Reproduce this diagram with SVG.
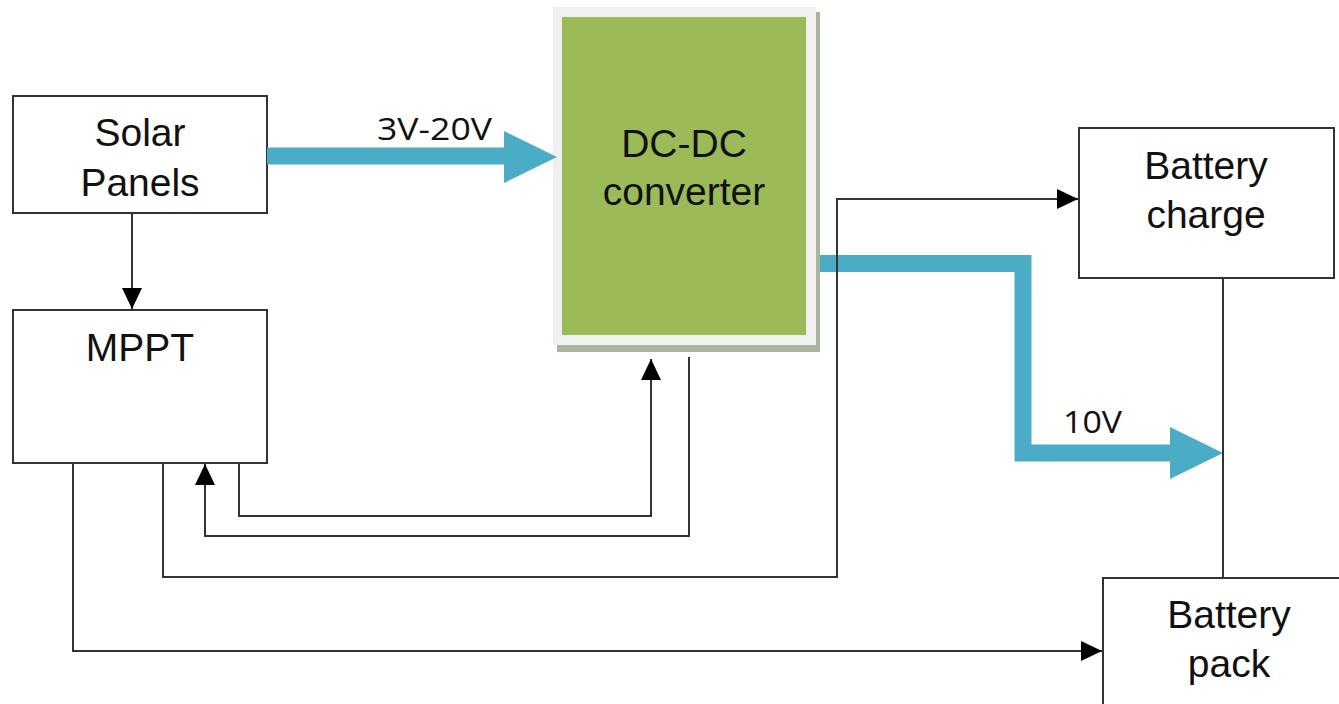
<svg xmlns="http://www.w3.org/2000/svg" width="1339" height="704" viewBox="0 0 1339 704">
<defs>
<style>
.box{fill:#fff;stroke:#333;stroke-width:2}
.t{font-family:"Liberation Sans",Arial,sans-serif;font-size:39px;fill:#111;text-anchor:middle}
.lbl{font-family:"Open Sans","Liberation Sans",sans-serif;font-size:31px;fill:#111}
.ln{fill:none;stroke:#333;stroke-width:2}
.blue{fill:none;stroke:#4bacc6;stroke-width:17}
.bh{fill:#4bacc6}
</style>
<marker id="ah" markerUnits="userSpaceOnUse" markerWidth="22" markerHeight="22" viewBox="0 0 22 22" refX="21" refY="11" orient="auto">
<path d="M0,1 L21,11 L0,21 Z" fill="#000"/>
</marker>
</defs>
<rect width="1339" height="704" fill="#fff"/>

<g id="solar">
<rect class="box" x="13" y="96" width="254" height="117"/>
<text class="t" x="140" y="146">Solar</text>
<text class="t" x="140" y="196">Panels</text>
</g>

<g id="mppt">
<rect class="box" x="13" y="310" width="254" height="153"/>
<text class="t" x="140" y="361">MPPT</text>
</g>

<g id="dcdc">
<rect x="557" y="12" width="263" height="340" fill="#a9b59c"/>
<rect x="553" y="7" width="263" height="338" fill="#f0f0f0"/>
<rect x="562" y="17" width="244" height="318" fill="#9bbb59"/>
<text class="t" x="684" y="157">DC-DC</text>
<text class="t" x="684" y="205">converter</text>
</g>

<g id="charge">
<rect class="box" x="1079" y="128" width="255" height="150"/>
<text class="t" x="1206" y="179">Battery</text>
<text class="t" x="1206" y="228">charge</text>
</g>

<g id="pack">
<rect class="box" x="1103" y="578" width="260" height="200"/>
<text class="t" x="1229" y="628">Battery</text>
<text class="t" x="1229" y="677">pack</text>
</g>

<g id="connectors">
<path class="blue" d="M267,156 H506"/>
<polygon class="bh" points="504,131 557,157 504,183"/>
<text class="lbl" x="377" y="140" textLength="115" lengthAdjust="spacingAndGlyphs">3V-20V</text>

<path class="blue" d="M820,263.5 H1023 V453 H1172" stroke-linejoin="miter"/>
<polygon class="bh" points="1170,427 1223,453 1170,479"/>
<text class="lbl" x="1063" y="433" textLength="59" lengthAdjust="spacingAndGlyphs">10V</text>

<path class="ln" d="M132,214 V309" marker-end="url(#ah)"/>
<path class="ln" d="M239,463 V516 H651 V359" marker-end="url(#ah)"/>
<path class="ln" d="M689,357 V536 H205 V464" marker-end="url(#ah)"/>
<path class="ln" d="M163,463 V577 H837 V199 H1078" marker-end="url(#ah)"/>
<path class="ln" d="M73,463 V651 H1102" marker-end="url(#ah)"/>
<path class="ln" d="M1223,278 V578"/>
</g>
</svg>
